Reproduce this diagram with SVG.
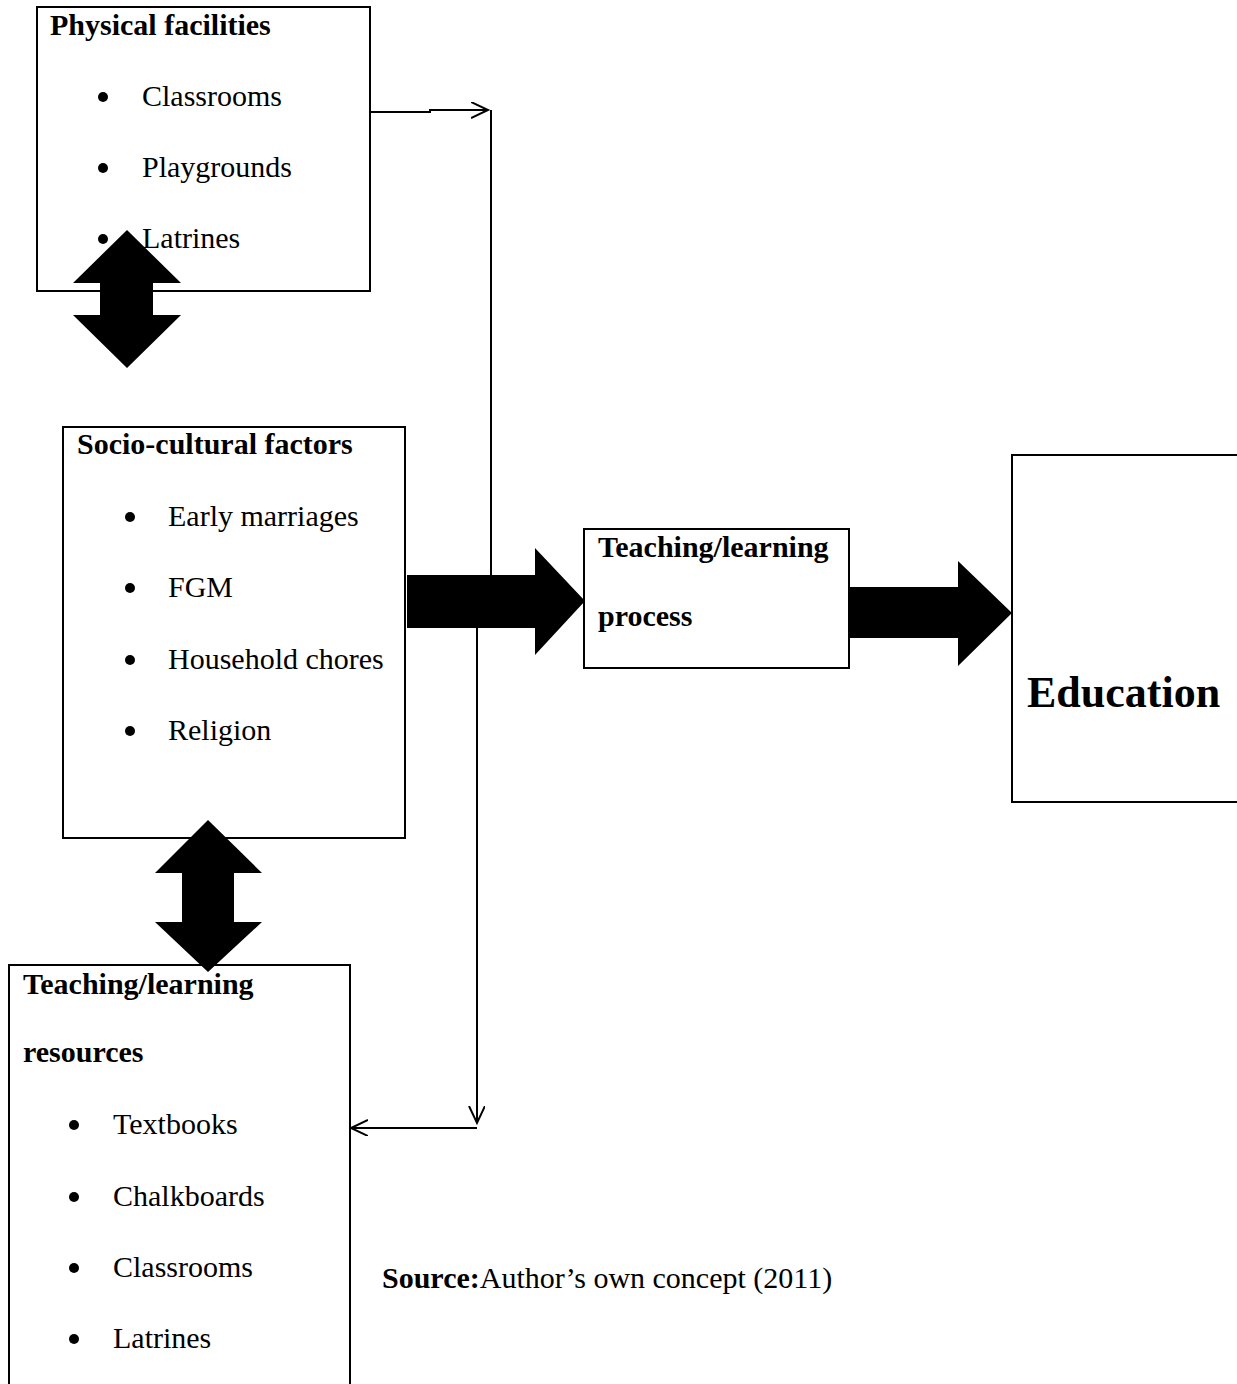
<svg xmlns="http://www.w3.org/2000/svg" width="1237" height="1384" viewBox="0 0 1237 1384">
<style>
.box{fill:#fff;stroke:#000;stroke-width:2}
.t{font-family:"Liberation Serif","Times New Roman",serif;font-size:30px;fill:#000}
.b{font-weight:bold}
.ln{fill:none;stroke:#000;stroke-width:2}
.fat{fill:#000;stroke:none}
</style>
<defs>
<marker id="open" markerWidth="20" markerHeight="20" refX="17" refY="8" orient="auto" markerUnits="userSpaceOnUse">
<path d="M0,0 L17,8 L0,16" fill="none" stroke="#000" stroke-width="2"/>
</marker>
</defs>
<rect width="1237" height="1384" fill="#fff"/>

<g id="physical-facilities">
<rect class="box" x="37" y="7" width="333" height="284"/>
<text class="t b" x="50" y="35">Physical facilities</text>
<circle cx="103" cy="97" r="5"/><text class="t" x="142" y="106">Classrooms</text>
<circle cx="103" cy="168" r="5"/><text class="t" x="142" y="177">Playgrounds</text>
<circle cx="103" cy="239" r="5"/><text class="t" x="142" y="248">Latrines</text>
</g>

<g id="socio-cultural">
<rect class="box" x="63" y="427" width="342" height="411"/>
<text class="t b" x="77" y="454">Socio-cultural factors</text>
<circle cx="130" cy="517" r="5"/><text class="t" x="168" y="526">Early marriages</text>
<circle cx="130" cy="588" r="5"/><text class="t" x="168" y="597">FGM</text>
<circle cx="130" cy="660" r="5"/><text class="t" x="168" y="669">Household chores</text>
<circle cx="130" cy="731" r="5"/><text class="t" x="168" y="740">Religion</text>
</g>

<g id="teaching-process">
<rect class="box" x="584" y="529" width="265" height="139"/>
<text class="t b" x="598" y="557">Teaching/learning</text>
<text class="t b" x="598" y="626">process</text>
</g>

<g id="education">
<rect class="box" x="1012" y="455" width="240" height="347"/>
<text class="t b" x="1027" y="707" style="font-size:44px">Education</text>
</g>

<g id="teaching-resources">
<rect class="box" x="9" y="965" width="341" height="430"/>
<text class="t b" x="23" y="994">Teaching/learning</text>
<text class="t b" x="23" y="1062">resources</text>
<circle cx="74" cy="1125" r="5"/><text class="t" x="113" y="1134">Textbooks</text>
<circle cx="74" cy="1197" r="5"/><text class="t" x="113" y="1206">Chalkboards</text>
<circle cx="74" cy="1268" r="5"/><text class="t" x="113" y="1277">Classrooms</text>
<circle cx="74" cy="1339" r="5"/><text class="t" x="113" y="1348">Latrines</text>
</g>

<g id="source">
<text class="t" x="382" y="1288"><tspan class="b">Source:</tspan>Author’s own concept (2011)</text>
</g>

<g id="connectors">
<polyline class="ln" points="370,112 430,112 430,110 488,110" marker-end="url(#open)"/>
<line class="ln" x1="491" y1="110" x2="491" y2="576"/>
<line class="ln" x1="477" y1="628" x2="477" y2="1123" marker-end="url(#open)"/>
<line class="ln" x1="477" y1="1128" x2="351" y2="1128" marker-end="url(#open)"/>
<polygon class="fat" points="407,575 535,575 535,548 585,601 535,655 535,628 407,628"/>
<polygon class="fat" points="849,587 958,587 958,561 1012,613 958,666 958,638 849,638"/>
<polygon class="fat" points="127,230 181,283 153,283 153,315 181,315 127,368 73,315 100,315 100,283 73,283"/>
<polygon class="fat" points="208,820 262,873 234,873 234,922 262,922 208,972 155,922 182,922 182,873 155,873"/>
</g>
</svg>
